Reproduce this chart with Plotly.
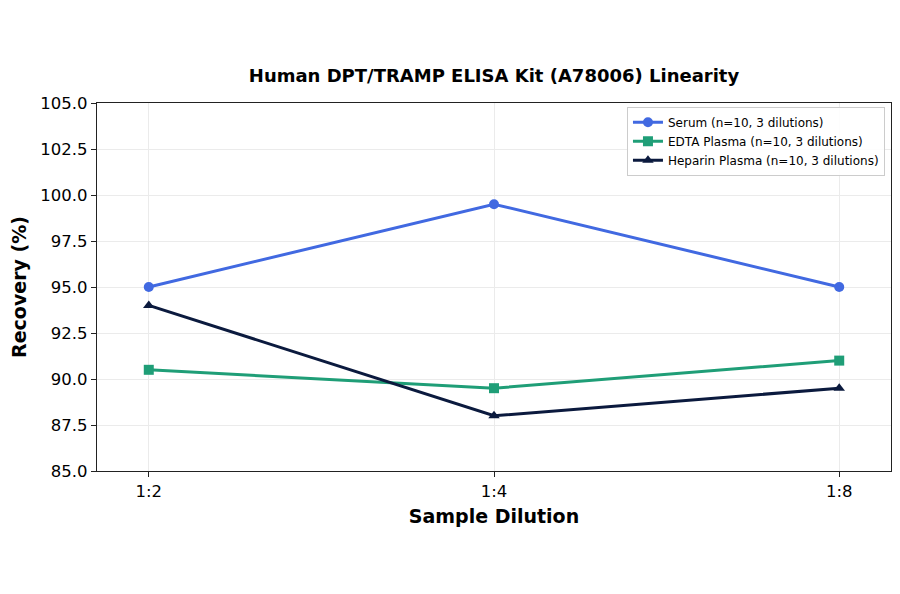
import plotly.graph_objects as go

# data
dilutions = ['1:2', '1:4', '1:8']
serum = [95.0, 99.5, 95.0]
edta_plasma = [90.5, 89.5, 91.0]
heparin_plasma = [94.0, 88.0, 89.5]
y_ticks = [85.0, 87.5, 90.0, 92.5, 95.0, 97.5, 100.0, 102.5, 105.0]

series = [
    ('Serum (n=10, 3 dilutions)', serum, '#4169E1', 'circle'),
    ('EDTA Plasma (n=10, 3 dilutions)', edta_plasma, '#1f9e77', 'square'),
    ('Heparin Plasma (n=10, 3 dilutions)', heparin_plasma, '#0b1a3e', 'triangle-up'),
]

fig = go.Figure()
for name, values, color, symbol in series:
    fig.add_trace(go.Scatter(
        x=list(range(len(dilutions))), y=values, name=name, mode='lines+markers',
        line=dict(color=color, width=3),
        marker=dict(symbol=symbol, size=10, color=color),
    ))

font = 'DejaVu Sans, Arial, sans-serif'
fig.update_layout(
    width=900, height=594,
    paper_bgcolor='white', plot_bgcolor='white',
    margin=dict(l=89, r=17, t=95, b=131, autoexpand=False),
    font=dict(family=font, color='black'),
    title=dict(text='<b>Human DPT/TRAMP ELISA Kit (A78006) Linearity</b>',
               x=0.54, xanchor='center', y=0.8855, yanchor='middle',
               font=dict(size=18, color='black')),
    legend=dict(x=0.9924, xanchor='right', y=0.99, yanchor='top',
                bgcolor='rgba(255,255,255,0.9)', bordercolor='#cccccc', borderwidth=1,
                font=dict(size=12), tracegroupgap=0, itemwidth=30),
    showlegend=True,
)
fig.update_xaxes(
    range=[-0.15, 2.15], tickmode='array', tickvals=list(range(len(dilutions))),
    ticktext=dilutions, tickfont=dict(size=16.5), automargin=False,
    title=dict(text='<b>Sample Dilution</b>', font=dict(size=19), standoff=9),
    showline=True, linecolor='#222222', linewidth=1.3, mirror=True,
    ticks='outside', ticklen=5, tickcolor='#222222',
    showgrid=True, gridcolor='#ebebeb', zeroline=False,
)
fig.update_yaxes(
    range=[85, 105], tickmode='array', tickvals=y_ticks,
    ticktext=['%.1f' % v for v in y_ticks], tickfont=dict(size=16.5), automargin=False,
    title=dict(text='<b>Recovery (%)</b>', font=dict(size=19), standoff=10),
    showline=True, linecolor='#222222', linewidth=1.3, mirror=True,
    ticks='outside', ticklen=5, tickcolor='#222222',
    showgrid=True, gridcolor='#ebebeb', zeroline=False,
)

fig.write_html('out.html')
